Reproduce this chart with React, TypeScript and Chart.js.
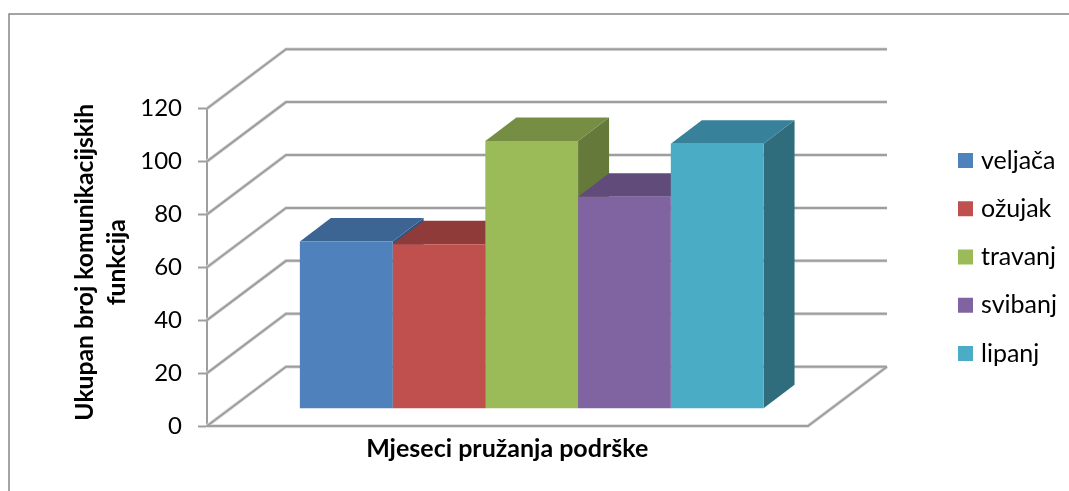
import React, { useEffect, useRef } from "react";
import { Chart, registerables } from "chart.js";

Chart.register(...registerables);

const CATEGORY_LABELS = [""];
const SERIES_NAMES = ["veljača", "ožujak", "travanj", "svibanj", "lipanj"];
const VELJACA = [63];
const OZUJAK = [62];
const TRAVANJ = [101];
const SVIBANJ = [80];
const LIPANJ = [100];
const Y_TITLE = ["Ukupan broj komunikacijskih", "funkcija"];
const X_TITLE = "Mjeseci pružanja podrške";

const FRONT = ["#4F81BD", "#C0504D", "#9BBB59", "#8064A2", "#4BACC6"];
const TOP = ["#3D6594", "#8E3B39", "#768E44", "#614B7B", "#37819A"];
const SIDE = ["#2F5582", "#7A3230", "#65793A", "#523F69", "#2F6D7D"];
const FONT = "Lato";
const GRID = "#9E9E9E";
const HALO = "#DADADA";
const WALL_DX = 79;
const WALL_DY = -59.3;
const FLOOR_WIDTH = 601;
const BAR_DX = 31;
const BAR_DY = -23.5;

const threeD = {
  id: "threeD",
  afterLayout(chart: any) {
    const { legend, scales } = chart;
    legend.left = 939.25;
    legend.right = 1069;
    legend.top = 124.75;
    legend.bottom = 491;
    scales.yBar.top -= 5;
    scales.yBar.bottom -= 5;
    scales.x.left -= 24.5;
    scales.x.right -= 24.5;
  },
  beforeDraw(chart: any) {
    const ctx = chart.ctx;
    ctx.save();
    ctx.strokeStyle = "#868686";
    ctx.lineWidth = 1.5;
    ctx.beginPath();
    ctx.moveTo(9, 491);
    ctx.lineTo(9, 14);
    ctx.lineTo(1069, 14);
    ctx.stroke();
    ctx.restore();
  },
  beforeDatasetsDraw(chart: any) {
    const { ctx, chartArea, scales } = chart;
    const left = chartArea.left;
    ctx.save();
    ctx.lineJoin = "miter";
    const y0 = scales.y.getPixelForValue(0);
    [
      { color: HALO, width: 3.5 },
      { color: GRID, width: 2 },
    ].forEach(({ color, width }) => {
      ctx.strokeStyle = color;
      ctx.lineWidth = width;
      scales.y.ticks.forEach((t: any) => {
        const y = scales.y.getPixelForValue(t.value);
        ctx.beginPath();
        ctx.moveTo(left, y);
        ctx.lineTo(left + WALL_DX, y + WALL_DY);
        ctx.lineTo(left + WALL_DX + FLOOR_WIDTH, y + WALL_DY);
        ctx.stroke();
      });
      ctx.beginPath();
      ctx.moveTo(left, y0);
      ctx.lineTo(left + FLOOR_WIDTH, y0);
      ctx.lineTo(left + FLOOR_WIDTH + WALL_DX, y0 + WALL_DY);
      ctx.stroke();
    });

    chart.data.datasets.forEach((_: any, i: number) => {
      const bar = chart.getDatasetMeta(i).data[0];
      const l = bar.x - bar.width / 2;
      const r = bar.x + bar.width / 2;
      ctx.fillStyle = SIDE[i];
      ctx.beginPath();
      ctx.moveTo(r, bar.y);
      ctx.lineTo(r + BAR_DX, bar.y + BAR_DY);
      ctx.lineTo(r + BAR_DX, bar.base + BAR_DY);
      ctx.lineTo(r, bar.base);
      ctx.closePath();
      ctx.fill();
      ctx.fillStyle = TOP[i];
      ctx.beginPath();
      ctx.moveTo(l, bar.y);
      ctx.lineTo(l + BAR_DX, bar.y + BAR_DY);
      ctx.lineTo(r + BAR_DX, bar.y + BAR_DY);
      ctx.lineTo(r, bar.y);
      ctx.closePath();
      ctx.fill();
    });
    ctx.restore();
  },
};

export default function App() {
  const ref = useRef<HTMLCanvasElement>(null);
  useEffect(() => {
    const values = [VELJACA, OZUJAK, TRAVANJ, SVIBANJ, LIPANJ];
    const chart = new Chart(ref.current as HTMLCanvasElement, {
      type: "bar",
      plugins: [threeD],
      data: {
        labels: CATEGORY_LABELS,
        datasets: SERIES_NAMES.map((label, i) => ({
          label,
          data: values[i],
          yAxisID: "yBar",
          backgroundColor: FRONT[i],
          borderWidth: 0,
          categoryPercentage: 0.714,
          barPercentage: 1,
          clip: false,
        })),
      },
      options: {
        animation: false,
        responsive: false,
        layout: { padding: { top: 108.5, right: 212.6, left: 0, bottom: 0 } },
        plugins: {
          tooltip: { enabled: false },
          legend: {
            position: "chartArea",
            align: "start",
            labels: {
              boxWidth: 6,
              boxHeight: 6,
              padding: 23.25,
              color: "#000",
              font: { family: FONT, size: 25 },
              generateLabels: (chart: any) =>
                chart.data.datasets.map((d: any, i: number) => ({
                  text: d.label,
                  fillStyle: FRONT[i],
                  strokeStyle: FRONT[i],
                  lineWidth: 9,
                  lineJoin: "miter",
                  datasetIndex: i,
                  hidden: false,
                })),
            },
          },
        },
        scales: {
          x: {
            grid: { display: false },
            border: { display: false },
            ticks: { display: false },
            afterFit: (s: any) => { s.height = 65; },
            title: {
              display: true,
              text: X_TITLE,
              color: "#000",
              font: { family: FONT, size: 25, weight: "bold", lineHeight: 1.2 },
              padding: { top: 0, bottom: 27 },
            },
          },
          y: {
            position: "left",
            weight: 0,
            min: 0,
            max: 120,
            afterFit: (s: any) => { s.width = 85; },
            ticks: {
              stepSize: 20,
              padding: 16,
              color: "#000",
              font: { family: FONT, size: 24 },
            },
            grid: { drawOnChartArea: false, drawTicks: true, tickLength: 9, tickWidth: 2, tickColor: GRID },
            border: { display: true, color: GRID, width: 2 },
          },
          yBar: {
            position: "left",
            weight: 1,
            min: -6.69,
            max: 113.31,
            afterFit: (s: any) => { s.width = 122; },
            ticks: { display: false },
            grid: { display: false },
            border: { display: false },
            title: {
              display: true,
              text: Y_TITLE,
              color: "#000",
              font: { family: FONT, size: 24.7, weight: "bold", lineHeight: 1.3 },
              padding: { top: 69, bottom: 0 },
            },
          },
        },
      },
    } as any);
    return () => chart.destroy();
  }, []);
  return (
    <canvas
      ref={ref}
      width={1069}
      height={491}
      style={{ position: "absolute", left: 0, top: 0, display: "block", width: 1069, height: 491 }}
    />
  );
}
